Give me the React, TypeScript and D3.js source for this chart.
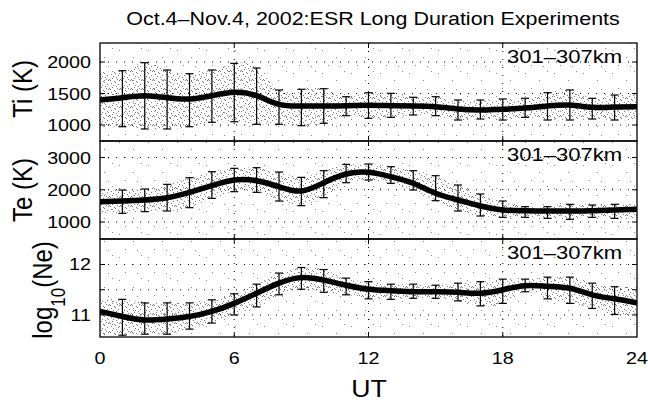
import React from 'react';
import * as d3 from 'd3';

// hourly mean values (UT 0..24) and error bars (UT 1..23)
const hours = [0, 1, 2, 3, 4, 5, 6, 7, 8, 9, 10, 11, 12, 13, 14, 15, 16, 17, 18, 19, 20, 21, 22, 23, 24];
const barHours = [1, 2, 3, 4, 5, 6, 7, 8, 9, 10, 11, 12, 13, 14, 15, 16, 17, 18, 19, 20, 21, 22, 23];
const xTicks = [0, 6, 12, 18, 24];

const tiMean = [1397, 1433, 1465, 1433, 1413, 1465, 1519, 1465, 1328, 1302, 1302, 1307, 1312, 1307, 1302, 1291, 1254, 1238, 1249, 1270, 1302, 1317, 1280, 1286, 1291];
const tiHi = [1862, 1989, 1873, 1814, 1873, 1979, 1905, 1556, 1567, 1576, 1449, 1513, 1503, 1440, 1449, 1397, 1397, 1413, 1424, 1513, 1556, 1424, 1476];
const tiLo = [973, 937, 937, 973, 1043, 1052, 1011, 1011, 989, 1027, 1148, 1106, 1122, 1159, 1148, 1079, 1095, 1079, 1122, 1079, 1079, 1095, 1079];
const tiTicks = [1000, 1500, 2000];

const teMean = [1630, 1651, 1682, 1754, 1920, 2126, 2302, 2281, 2095, 1961, 2219, 2488, 2541, 2405, 2200, 1890, 1682, 1496, 1372, 1350, 1340, 1340, 1350, 1372, 1393];
const teHi = [1992, 2023, 2168, 2374, 2560, 2664, 2684, 2550, 2385, 2591, 2788, 2798, 2715, 2591, 2436, 2147, 1868, 1651, 1475, 1475, 1548, 1527, 1548];
const teLo = [1270, 1321, 1341, 1444, 1734, 1940, 1920, 1651, 1506, 1754, 2219, 2302, 2200, 1992, 1661, 1341, 1186, 1145, 1145, 1114, 1083, 1145, 1114];
const teTicks = [1000, 2000, 3000];

const neMean = [11.07, 10.97, 10.9, 10.92, 10.97, 11.07, 11.23, 11.43, 11.63, 11.74, 11.69, 11.59, 11.51, 11.48, 11.46, 11.46, 11.45, 11.43, 11.5, 11.58, 11.57, 11.53, 11.4, 11.32, 11.24];
const neHi = [11.31, 11.24, 11.24, 11.24, 11.3, 11.42, 11.61, 11.83, 11.94, 11.9, 11.73, 11.66, 11.61, 11.61, 11.59, 11.63, 11.66, 11.71, 11.71, 11.75, 11.75, 11.63, 11.56];
const neLo = [10.6, 10.62, 10.62, 10.72, 10.84, 11.0, 11.16, 11.4, 11.51, 11.45, 11.4, 11.32, 11.31, 11.33, 11.33, 11.28, 11.18, 11.23, 11.46, 11.32, 11.23, 11.13, 11.01];
const neTicks = [11, 11.5, 12];
const neTickLabels = ['11', '', '12'];

const title = 'Oct.4\u2013Nov.4, 2002:ESR Long Duration Experiments';
const altLabel = '301\u2013307km';

const W = 648, H = 403;
const left = 100, right = 637;
const FONT = '"Liberation Sans", Arial, Helvetica, sans-serif';
const SX = 1.16; // reference text is stretched horizontally

const x = d3.scaleLinear().domain([0, 24]).range([left, right]);

// texture tiles standing in for the scatter cloud
const denseDots = [[1, 2], [4, 0], [8, 3], [10, 7], [2, 6], [6, 5], [9, 8], [0, 8], [5, 1], [3, 4], [7, 7]];
const sparseDots = [[3, 4], [17, 11], [25, 2], [9, 19], [21, 20]];

const T = ({ x: tx, y: ty, anchor = 'start', size = 17, children, sx = SX }: any) => (
  <text transform={`translate(${tx},${ty}) scale(${sx},1)`} textAnchor={anchor} fontSize={size} fontFamily={FONT} fill="#000">
    {children}
  </text>
);

const Panel = ({ id, top, bottom, domain, mean, lo, hi, ticks, tickLabels, showX }: any) => {
  const y = d3.scaleLinear().domain(domain).range([bottom, top]);
  const line = d3.line<number>().x((_, i) => x(hours[i])).y(d => y(d)).curve(d3.curveNatural);
  // band of dense scatter, following the error bar extent
  const bandX = [0, ...barHours, 24];
  const bandLo = [lo[0], ...lo, lo[lo.length - 1]];
  const bandHi = [hi[0], ...hi, hi[hi.length - 1]];
  const area = d3.area<number>()
    .x((_, i) => x(bandX[i]))
    .y0((_, i) => y(bandLo[i]))
    .y1((_, i) => y(bandHi[i]))
    .curve(d3.curveNatural);
  return (
    <g>
      <defs>
        <clipPath id={`clip-${id}`}>
          <rect x={left} y={top} width={right - left} height={bottom - top} />
        </clipPath>
      </defs>
      <g clipPath={`url(#clip-${id})`}>
        <rect x={left} y={top} width={right - left} height={bottom - top} fill="url(#sparse)" />
        <path d={area(bandLo) || ''} fill="url(#dense)" />
      </g>
      {/* grid */}
      {ticks.map((t: number) => (
        <line key={'gy' + t} x1={left} x2={right} y1={y(t)} y2={y(t)} stroke="#000" strokeWidth={1} strokeDasharray="1,7" />
      ))}
      {xTicks.slice(1, -1).map(t => (
        <line key={'gx' + t} x1={x(t)} x2={x(t)} y1={top} y2={bottom} stroke="#000" strokeWidth={1} strokeDasharray="1,7" />
      ))}
      {/* error bars */}
      {barHours.map((h, i) => (
        <g key={'eb' + h} stroke="#000" strokeWidth={1.2}>
          <line x1={x(h)} x2={x(h)} y1={y(lo[i])} y2={y(hi[i])} />
          <line x1={x(h) - 4} x2={x(h) + 4} y1={y(lo[i])} y2={y(lo[i])} />
          <line x1={x(h) - 4} x2={x(h) + 4} y1={y(hi[i])} y2={y(hi[i])} />
        </g>
      ))}
      <g clipPath={`url(#clip-${id})`}>
        <path d={line(mean) || ''} fill="none" stroke="#000" strokeWidth={5.5} />
      </g>
      {/* ticks */}
      {ticks.map((t: number, i: number) => (
        <g key={'ty' + t}>
          <line x1={left} x2={left + 5} y1={y(t)} y2={y(t)} stroke="#000" />
          <line x1={right - 5} x2={right} y1={y(t)} y2={y(t)} stroke="#000" />
          <T x={91} y={y(t) + 6} anchor="end">{tickLabels[i]}</T>
        </g>
      ))}
      {xTicks.slice(1, -1).map(t => (
        <g key={'tx' + t}>
          <line x1={x(t)} x2={x(t)} y1={top} y2={top + 5} stroke="#000" />
          <line x1={x(t)} x2={x(t)} y1={bottom - 5} y2={bottom} stroke="#000" />
        </g>
      ))}
      <rect x={left} y={top} width={right - left} height={bottom - top} fill="none" stroke="#000" strokeWidth={1.3} />
      <T x={622} y={top + 19.5} anchor="end" size={19}>{altLabel}</T>
      {showX && xTicks.map(t => (
        <T key={'xl' + t} x={x(t)} y={364} anchor="middle">{String(t)}</T>
      ))}
    </g>
  );
};

export default function App() {
  return (
    <svg width={W} height={H} style={{ position: 'absolute', left: 0, top: 0, background: '#fff' }}>
      <defs>
        <pattern id="dense" width={11} height={9} patternUnits="userSpaceOnUse">
          {denseDots.map(([dx, dy], i) => <rect key={i} x={dx} y={dy} width={1} height={1} fill="#777" />)}
        </pattern>
        <pattern id="sparse" width={29} height={23} patternUnits="userSpaceOnUse">
          {sparseDots.map(([dx, dy], i) => <rect key={i} x={dx} y={dy} width={1} height={1} fill="#888" />)}
        </pattern>
      </defs>
      <rect width={W} height={H} fill="#fff" />
      <T x={373} y={24.5} anchor="middle" size={19} sx={1.13}>{title}</T>

      <Panel id="ti" top={43} bottom={141} domain={[746, 2302]} mean={tiMean} lo={tiLo} hi={tiHi}
        ticks={tiTicks} tickLabels={tiTicks.map(String)} />
      <Panel id="te" top={141} bottom={239} domain={[473, 3512]} mean={teMean} lo={teLo} hi={teHi}
        ticks={teTicks} tickLabels={teTicks.map(String)} />
      <Panel id="ne" top={239} bottom={337} domain={[10.564, 12.505]} mean={neMean} lo={neLo} hi={neHi}
        ticks={neTicks} tickLabels={neTickLabels} showX />

      {/* y labels */}
      <text transform={`translate(32,89) rotate(-90) scale(1,${SX})`} textAnchor="middle" fontSize={24} fontFamily={FONT}>Ti (K)</text>
      <text transform={`translate(32,190) rotate(-90) scale(1,${SX})`} textAnchor="middle" fontSize={24} fontFamily={FONT}>Te (K)</text>
      <text transform={`translate(52,290) rotate(-90) scale(1,${SX})`} textAnchor="middle" fontSize={24} fontFamily={FONT}>
        <tspan>log</tspan>
        <tspan fontSize={17} dy={11}>10</tspan>
        <tspan dy={-11}>(Ne)</tspan>
      </text>

      <T x={369} y={397} anchor="middle" size={23}>UT</T>
    </svg>
  );
}
